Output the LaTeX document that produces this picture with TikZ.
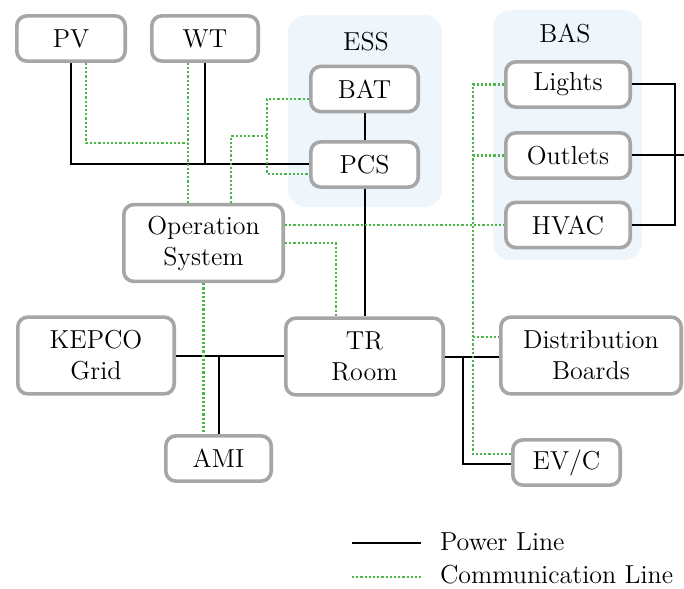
\documentclass[tikz,border=0pt]{standalone}
\usepackage{tikz}

\definecolor{boxgray}{HTML}{A6A6A6}
\definecolor{commgreen}{HTML}{4CB748}
\definecolor{groupblue}{HTML}{EEF6FB}

\begin{document}
\begin{tikzpicture}[x=0.5pt, y=-0.5pt,
    unit/.style={draw=boxgray, line width=1.8pt, rounded corners=5pt, fill=white,
                 align=center, inner sep=0pt, minimum height=22.6pt,
                 font=\fontsize{13}{15.5}\selectfont},
    bigunit/.style={unit, minimum height=38.4pt},
    group/.style={fill=groupblue, rounded corners=9pt},
    power/.style={black, line width=1pt},
    comm/.style={commgreen, line width=1.1pt, dash pattern=on 1.1pt off 1pt},
    lbl/.style={font=\fontsize{13}{15.5}\selectfont}]
                    \useasboundingbox (0,0) rectangle (684,588);
                    % Groups
                    \fill[group] (288,15) rectangle (442,207);
                    \fill[group] (493,10) rectangle (642,260);
                    \node[lbl] (esslabel) at (366,42) {ESS};
                    \node[lbl] (baslabel) at (565,33) {BAS};
                    % Nodes
                    \node[unit, minimum width=54.2pt] (PV) at (71,38.5) {PV};
                    \node[unit, minimum width=53.2pt] (WT) at (205,38.5) {WT};
                    \node[unit, minimum width=53.7pt] (BAT) at (364.5,89) {BAT};
                    \node[unit, minimum width=53.7pt] (PCS) at (364.5,164.5) {PCS};
                    \node[unit, minimum width=62.2pt] (Lights) at (568,84.5) {Lights};
                    \node[unit, minimum width=62.2pt] (Outlets) at (568,155.5) {Outlets};
                    \node[unit, minimum width=62.2pt] (HVAC) at (568,225) {HVAC};
                    \node[bigunit, minimum width=79.7pt] (OpSys) at (203.5,243) {Operation\\System};
                    \node[bigunit, minimum width=78.2pt] (KEPCO) at (96,355.5) {KEPCO\\Grid};
                    \node[bigunit, minimum width=78.7pt] (TR) at (364.5,356.5) {TR\\Room};
                    \node[bigunit, minimum width=90.2pt] (DB) at (591,355.5) {Distribution\\Boards};
                    \node[unit, minimum width=52.7pt] (AMI) at (218.5,458.5) {AMI};
                    \node[unit, minimum width=53.7pt] (EVC) at (566.5,462.5) {EV/C};
                    % Bends
                    \coordinate (pvc) at (86,143);
                    \coordinate (wtc) at (188,143);
                    \coordinate (essc) at (231,136);
                    \coordinate (batc) at (267,99);
                    \coordinate (pcsc) at (267,174);
                    \coordinate (trc) at (336,243);
                    \coordinate (dbc) at (473,337);
                    \coordinate (evc) at (473,454);
                    \coordinate (evp) at (463,464);
                    \coordinate (basbus) at (675,86);
                    \coordinate (outend) at (684,155.5);
                    % Power edges
                    \draw[power] (PV.south) |- (PCS.west);
                    \draw[power] (WT.south) -- (WT.south |- PCS.west);
                    \draw[power] (BAT) -- (PCS);
                    \draw[power] (PCS) -- (TR);
                    \draw[power] (Lights.east) -| (basbus) |- (HVAC.east);
                    \draw[power] (Outlets.east) -- (outend);
                    \draw[power] (KEPCO.east) -- (KEPCO.east -| TR.west);
                    \draw[power] (AMI.north) -- (AMI.north |- KEPCO.east);
                    \draw[power] (TR.east) -- (TR.east -| DB.west);
                    \draw[power] (evp |- TR.east) -- (evp) -- (evp -| EVC.west);
                    % Communication edges
                    \draw[comm] (pvc |- PV.south) -- (pvc) -- (wtc);
                    \draw[comm] (wtc |- WT.south) -- (wtc |- OpSys.north);
                    \draw[comm] (essc |- OpSys.north) -- (essc) -- (essc -| batc);
                    \draw[comm] (batc -| BAT.west) -- (batc) -- (pcsc) -- (pcsc -| PCS.west);
                    \draw[comm] (OpSys.east |- HVAC.west) -- (HVAC.west);
                    \draw[comm] (OpSys.east) -- (trc) -- (trc |- TR.north);
                    \draw[comm] (OpSys.south) -- (OpSys.south |- AMI.north);
                    \draw[comm] (Lights.west) -| (evc) -- (evc -| EVC.west);
                    \draw[comm] (Outlets.west) -- (Outlets.west -| evc);
                    \draw[comm] (dbc) -- (dbc -| DB.west);
                    % Legend
                    \coordinate (pwA) at (352,543);
                    \coordinate (pwB) at (421,543);
                    \coordinate (cmA) at (352,577);
                    \coordinate (cmB) at (421,577);
                    \draw[power] (pwA) -- (pwB);
                    \draw[comm] (cmA) -- (cmB);
                    \node[lbl, anchor=west] (powertext) at (433,542) {Power Line};
                    \node[lbl, anchor=west] (commtext) at (433,575) {Communication Line};
                \end{tikzpicture}
\end{document}
